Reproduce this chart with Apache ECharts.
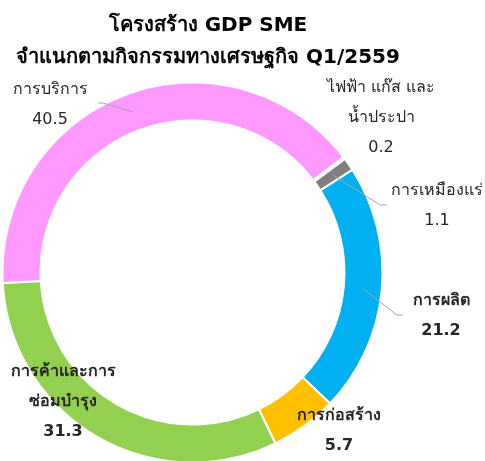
<!DOCTYPE html>
<html>
<head>
<meta charset="utf-8">
<script src="https://cdn.jsdelivr.net/npm/echarts@6/dist/echarts.min.js"></script>
<style>
  html, body { margin: 0; padding: 0; background: #fff; }
  #chart { width: 485px; height: 461px; }
</style>
</head>
<body>
<div id="chart"></div>
<script>
// ข้อมูลโครงสร้าง GDP SME
const categories = ['ไฟฟ้า แก๊ส และ\nน้ำประปา', 'การเหมืองแร่', 'การผลิต', 'การก่อสร้าง', 'การค้าและการ\nซ่อมบำรุง', 'การบริการ'];
const values = [0.2, 1.1, 21.2, 5.7, 31.3, 40.5];
const colors = ['#bfbfbf', '#7f7f7f', '#00b0f0', '#ffc000', '#92d050', '#ff99ff'];

// ตำแหน่งป้าย (จุดกึ่งกลาง) และจุดหักของเส้นชี้
const labelPos = [[381, 118], [437, 206], [441, 316], [339, 431], [63, 402], [50, 105]];
const linePos = [null, [[380, 205], [387, 205]], [[397, 315], [403, 315]], null, null, [[103, 103], [98, 103]]];
const boldLabel = [false, false, true, true, true, false];

const CX = 192.5, CY = 272.5, R_IN = 152, R_OUT = 190;
const START = 37.4; // องศา ทวนเข็มจากแนว 3 นาฬิกา

const chart = echarts.init(document.getElementById('chart'));

// มุมกึ่งกลางของแต่ละชิ้น (คำนวณจากข้อมูล)
const total = values.reduce((a, b) => a + b, 0);
const midAngles = [];
let acc = 0;
values.forEach(v => {
    midAngles.push(START - (acc + v / 2) / total * 360);
    acc += v;
});

const baseSeries = {
    type: 'pie',
    center: [CX, CY],
    radius: [R_IN, R_OUT],
    startAngle: START,
    clockwise: true,
    avoidLabelOverlap: false
};

const option = {
    animation: false,
    title: {
        text: 'โครงสร้าง GDP SME\nจำแนกตามกิจกรรมทางเศรษฐกิจ Q1/2559',
        left: 203,
        textAlign: 'center',
        top: 5,
        textStyle: {
            fontSize: 20,
            fontWeight: 'bold',
            color: '#000',
            lineHeight: 32,
            fontFamily: 'DejaVu Sans'
        }
    },
    series: [
        // วงโดนัท
        Object.assign({}, baseSeries, {
            z: 2,
            itemStyle: { borderColor: '#fff', borderWidth: 2 },
            label: { show: false },
            labelLine: { show: false },
            data: categories.map((name, i) => ({
                name: name,
                value: values[i],
                itemStyle: { color: colors[i] }
            }))
        }),
        // ชั้นป้ายและเส้นชี้ (วาดทับวง)
        Object.assign({}, baseSeries, {
            z: 5,
            silent: true,
            itemStyle: { color: 'rgba(0,0,0,0)' },
            label: {
                show: true,
                position: 'outside',
                formatter: '{b}\n{c}',
                fontSize: 16,
                lineHeight: 30,
                color: '#262626',
                align: 'center',
                fontFamily: 'DejaVu Sans'
            },
            labelLine: { show: true, lineStyle: { color: '#a6a6a6', width: 1 } },
            labelLayout: params => {
                const i = params.dataIndex;
                const res = {
                    x: labelPos[i][0],
                    y: labelPos[i][1],
                    align: 'center',
                    verticalAlign: 'middle'
                };
                if (linePos[i]) {
                    const a = midAngles[i] * Math.PI / 180;
                    const rm = (R_IN + R_OUT) / 2;
                    const start = [CX + rm * Math.cos(a), CY - rm * Math.sin(a)];
                    res.labelLinePoints = [start, linePos[i][0], linePos[i][1]];
                }
                return res;
            },
            data: categories.map((name, i) => ({
                name: name,
                value: values[i],
                label: { fontWeight: boldLabel[i] ? 'bold' : 'normal' },
                labelLine: { show: !!linePos[i] }
            }))
        })
    ]
};

chart.setOption(option);
</script>
</body>
</html>
